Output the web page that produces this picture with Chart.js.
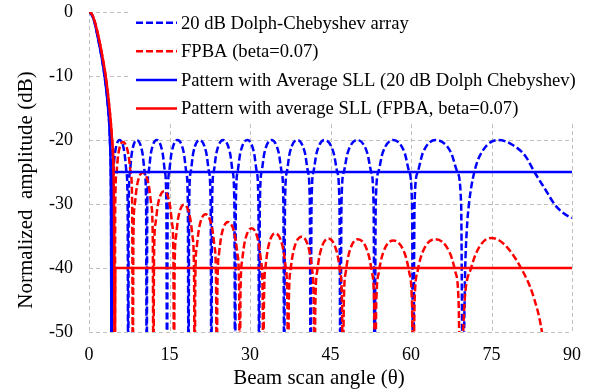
<!DOCTYPE html>
<html>
<head>
<meta charset="utf-8">
<script src="https://cdn.jsdelivr.net/npm/chart.js@4.4.1/dist/chart.umd.min.js"></script>
<style>
  html, body { margin: 0; padding: 0; background: #fff; }
  #chart { display: block; }
</style>
</head>
<body>
<canvas id="chart" width="598" height="392"></canvas>
<script>
// Tick values and labels
const xTickValues = [0, 15, 30, 45, 60, 75, 90];
const yTickValues = [-50, -40, -30, -20, -10, 0];
const xTitle = 'Beam scan angle (\u03b8)';
const yTitle = 'Normalized  amplitude (dB)';

// Legend entries (same order as the series below)
const legendLabels = [
  '20 dB Dolph-Chebyshev array',
  'FPBA (beta=0.07)',
  'Pattern with Average SLL (20 dB Dolph Chebyshev)',
  'Pattern with average SLL (FPBA, beta=0.07)'
];

// 20 dB Dolph-Chebyshev array (angle in deg, amplitude in dB)
const dolphAngle = [
  0, 0.5, 1.0, 1.65, 2.3, 2.9, 3.5, 3.9, 4.1, 4.2,
  4.29, 4.5, 4.845, 5.7, 6.61, 6.98, 7.20, 7.3,
  7.40, 7.62, 7.99, 8.9, 9.95, 10.38, 10.64, 10.75,
  10.86, 11.12, 11.55, 12.6, 13.71, 14.15, 14.42, 14.54,
  14.66, 14.93, 15.38, 16.5, 17.66, 18.13, 18.42, 18.54,
  18.66, 18.95, 19.43, 20.6, 21.85, 22.36, 22.67, 22.8,
  22.93, 23.24, 23.75, 25.0, 26.27, 26.78, 27.09, 27.22,
  27.36, 27.68, 28.2, 29.5, 30.75, 31.26, 31.57, 31.7,
  31.84, 32.16, 32.69, 34.0, 35.35, 35.9, 36.23, 36.37,
  36.52, 36.86, 37.41, 38.8, 40.23, 40.8, 41.15, 41.3,
  41.46, 41.82, 42.42, 43.9, 45.58, 46.26, 46.67, 46.85,
  47.04, 47.48, 48.2, 50.0, 51.84, 52.58, 53.03, 53.22,
  53.43, 53.92, 54.72, 56.7, 58.81, 59.67, 60.19, 60.41,
  60.66, 61.25, 62.21, 64.6, 67.47, 68.63, 69.34, 69.64,
  70.1, 70.4, 70.8, 71.8, 73.5, 76.3, 78.8, 81.3, 83.0, 85.0, 86.8, 88.5, 90
];
const dolphDb = [
  0, -0.4, -1.5, -4, -6.8, -10, -14.5, -20, -30, -60,
  -30, -25, -22, -20, -22, -25, -30, -60,
  -30, -25, -22, -20, -22, -25, -30, -60,
  -30, -25, -22, -20, -22, -25, -30, -60,
  -30, -25, -22, -20, -22, -25, -30, -60,
  -30, -25, -22, -20, -22, -25, -30, -60,
  -30, -25, -22, -20, -22, -25, -30, -60,
  -30, -25, -22, -20, -22, -25, -30, -60,
  -30, -25, -22, -20, -22, -25, -30, -60,
  -30, -25, -22, -20, -22, -25, -30, -60,
  -30, -25, -22, -20, -22, -25, -30, -60,
  -30, -25, -22, -20, -22, -25, -30, -60,
  -30, -25, -22, -20, -22, -25, -30, -60,
  -30, -25, -22, -20, -22, -25, -30, -60,
  -40, -34, -30, -25, -21.5, -20, -20.7, -22.5, -25, -27.7, -30.1, -31.5, -32.2
];

// FPBA (beta=0.07)
const fpbaAngle = [
  0, 0.5, 1.0, 1.8, 2.5, 3.1, 3.75, 4.3, 4.65, 4.8,
  4.89, 5.1, 5.445, 6.3, 7.36, 7.79, 8.05, 8.16,
  8.27, 8.53, 8.95, 10.0, 11.14, 11.6, 11.88, 12.0,
  12.12, 12.4, 12.86, 14.0, 15.05, 15.47, 15.73, 15.84,
  15.95, 16.21, 16.64, 17.7, 18.83, 19.29, 19.57, 19.69,
  19.81, 20.09, 20.55, 21.7, 22.9, 23.38, 23.67, 23.8,
  23.93, 24.22, 24.7, 25.9, 27.15, 27.66, 27.97, 28.1,
  28.23, 28.54, 29.05, 30.3, 31.54, 32.04, 32.35, 32.48,
  32.61, 32.92, 33.43, 34.7, 36.06, 36.61, 36.95, 37.09,
  37.24, 37.59, 38.17, 39.6, 40.99, 41.54, 41.88, 42.03,
  42.18, 42.54, 43.14, 44.6, 46.14, 46.77, 47.15, 47.31,
  47.48, 47.87, 48.51, 50.1, 51.94, 52.68, 53.13, 53.32,
  53.52, 54.0, 54.77, 56.7, 58.81, 59.67, 60.19, 60.41,
  60.66, 61.23, 62.17, 64.5, 67.16, 68.23, 68.88, 69.16,
  70.0, 71.2, 72.8, 75.0, 77.5, 80.5, 82.8, 84.4, 85.8
];
const fpbaDb = [
  0, -0.3, -1.3, -4, -7, -10, -14.5, -20, -30, -60,
  -30.3, -25.3, -22.3, -20.3, -22.3, -25.3, -30.3, -60,
  -35.1, -30.1, -27.1, -25.1, -27.1, -30.1, -35.1, -60,
  -38, -33, -30, -28, -30, -33, -38, -60,
  -40.1, -35.1, -32.1, -30.1, -32.1, -35.1, -40.1, -60,
  -41.6, -36.6, -33.6, -31.6, -33.6, -36.6, -41.6, -60,
  -42.8, -37.8, -34.8, -32.8, -34.8, -37.8, -42.8, -60,
  -43.8, -38.8, -35.8, -33.8, -35.8, -38.8, -43.8, -60,
  -44.6, -39.6, -36.6, -34.6, -36.6, -39.6, -44.6, -60,
  -45.1, -40.1, -37.1, -35.1, -37.1, -40.1, -45.1, -60,
  -45.4, -40.4, -37.4, -35.4, -37.4, -40.4, -45.4, -60,
  -45.5, -40.5, -37.5, -35.5, -37.5, -40.5, -45.5, -60,
  -45.7, -40.7, -37.7, -35.7, -37.7, -40.7, -45.7, -60,
  -45.5, -40.5, -37.5, -35.5, -37.5, -40.5, -45.5, -60,
  -45, -40, -36.6, -35.3, -36.4, -40, -44.4, -50, -60
];

// Pattern with average SLL: main lobe, then flat average level
const dolphAvgAngle = [0, 0.5, 1.0, 1.65, 2.3, 2.9, 3.5, 3.9, 4.1, 4.2, 4.3, 90];
const dolphAvgDb = [0, -0.4, -1.5, -4, -6.8, -10, -14.5, -20, -30, -60, -25, -25];
const fpbaAvgAngle = [0, 0.5, 1.0, 1.8, 2.5, 3.1, 3.75, 4.3, 4.65, 4.8, 4.9, 90];
const fpbaAvgDb = [0, -0.3, -1.3, -4, -7, -10, -14.5, -20, -30, -60, -40, -40];

const BLUE = '#0000ff';
const RED = '#ff0000';
const DASH = [7, 3];
const FONT = '"Liberation Serif", "Times New Roman", serif';

function toPoints(xs, ys) {
  return xs.map((x, i) => ({ x: x, y: ys[i] }));
}

function series(label, xs, ys, color, dashed, order) {
  return {
    label: label,
    data: toPoints(xs, ys),
    borderColor: color,
    backgroundColor: color,
    borderWidth: 2.5,
    borderDash: dashed ? DASH : [],
    pointRadius: 0,
    fill: false,
    cubicInterpolationMode: 'monotone',
    order: order
  };
}

// dashed grey grid, drawn under the curves
const gridPlugin = {
  id: 'dashedGrid',
  beforeDatasetsDraw(chart) {
    const { ctx, chartArea: a, scales } = chart;
    ctx.save();
    ctx.strokeStyle = '#c0c0c0';
    ctx.lineWidth = 1;
    ctx.setLineDash([4, 3]);
    xTickValues.forEach(v => {
      const x = Math.round(scales.x.getPixelForValue(v)) + 0.5;
      ctx.beginPath();
      ctx.moveTo(x, a.top);
      ctx.lineTo(x, a.bottom);
      ctx.stroke();
    });
    yTickValues.forEach(v => {
      const y = Math.round(scales.y.getPixelForValue(v)) + 0.5;
      ctx.beginPath();
      ctx.moveTo(a.left, y);
      ctx.lineTo(a.right, y);
      ctx.stroke();
    });
    ctx.restore();
  }
};

// legend + axis titles drawn by hand to match the layout
const overlayPlugin = {
  id: 'overlay',
  afterDraw(chart) {
    const ctx = chart.ctx;
    ctx.save();
    ctx.fillStyle = '#ffffff';
    ctx.fillRect(128, 0, 470, 124);

    ctx.font = '18.6px ' + FONT;
    ctx.textBaseline = 'middle';
    ctx.textAlign = 'left';
    chart.data.datasets.forEach((ds, i) => {
      const y = 22.7 + i * 28.6;
      ctx.strokeStyle = ds.borderColor;
      ctx.lineWidth = 2.5;
      ctx.setLineDash(ds.borderDash);
      ctx.beginPath();
      ctx.moveTo(136, y);
      ctx.lineTo(177, y);
      ctx.stroke();
      ctx.fillStyle = '#000';
      ctx.fillText(ds.label, 181, y + 1);
    });

    ctx.setLineDash([]);
    ctx.font = '21px ' + FONT;
    ctx.textAlign = 'center';
    ctx.fillStyle = '#000';
    ctx.fillText(xTitle, 319, 378);
    ctx.translate(26, 190);
    ctx.rotate(-Math.PI / 2);
    ctx.fillText(yTitle, 0, 0);
    ctx.restore();
  }
};

new Chart(document.getElementById('chart').getContext('2d'), {
  type: 'line',
  data: {
    datasets: [
      series(legendLabels[0], dolphAngle, dolphDb, BLUE, true, 3),
      series(legendLabels[1], fpbaAngle, fpbaDb, RED, true, 2),
      series(legendLabels[2], dolphAvgAngle, dolphAvgDb, BLUE, false, 1),
      series(legendLabels[3], fpbaAvgAngle, fpbaAvgDb, RED, false, 0)
    ]
  },
  options: {
    responsive: false,
    animation: false,
    devicePixelRatio: 1,
    layout: { padding: { top: 12, right: 26, bottom: 0, left: 0 } },
    plugins: {
      legend: { display: false },
      tooltip: { enabled: false }
    },
    scales: {
      x: {
        type: 'linear',
        min: 0,
        max: 90,
        afterBuildTicks: (scale) => { scale.ticks = xTickValues.map(v => ({ value: v })); },
        afterFit: (scale) => { scale.height = 60; scale.paddingLeft = 0; scale.paddingRight = 0; },
        ticks: { color: '#000', padding: 12, maxRotation: 0, font: { family: FONT, size: 18 } },
        grid: { display: false, drawTicks: false },
        border: { display: false }
      },
      y: {
        type: 'linear',
        min: -50,
        max: 0,
        afterBuildTicks: (scale) => { scale.ticks = yTickValues.map(v => ({ value: v })); },
        afterFit: (scale) => { scale.width = 89; scale.paddingTop = 0; scale.paddingBottom = 0; },
        ticks: { color: '#000', padding: 16, font: { family: FONT, size: 18 } },
        grid: { display: false, drawTicks: false },
        border: { display: false }
      }
    }
  },
  plugins: [gridPlugin, overlayPlugin]
});
</script>
</body>
</html>
